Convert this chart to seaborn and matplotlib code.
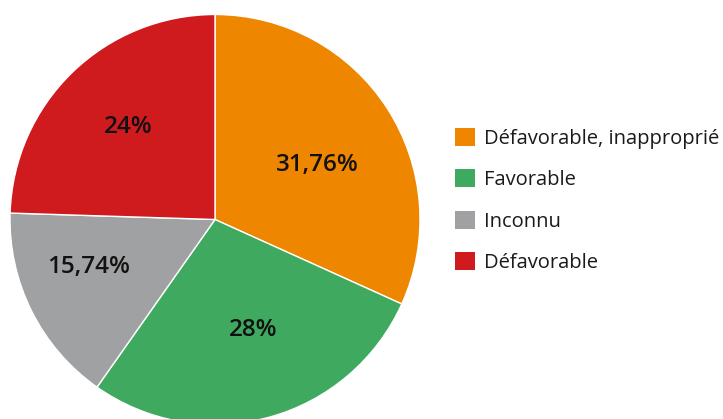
import matplotlib
matplotlib.use("Agg")
import matplotlib.pyplot as plt
from matplotlib.patches import Patch
import numpy as np
import seaborn as sns

categories = ["Défavorable, inapproprié", "Favorable", "Inconnu", "Défavorable"]
values = [31.76, 28, 15.74, 24.5]
value_labels = ["31,76%", "28%", "15,74%", "24%"]
colors = ["#EE8600", "#3FAA5F", "#A0A1A3", "#CF1B1E"]
label_dist = [0.565, 0.57, 0.66, 0.62]
label_turn = [-5, 4, -6, -1]  # degrees off the wedge bisector

sns.set_theme(style="white")
plt.rcParams["font.family"] = ["Open Sans", "DejaVu Sans"]

W, H = 723, 419
cx, cy, r = 215, 219.5, 205

fig = plt.figure(figsize=(W / 100, H / 100), dpi=100)
ax = fig.add_axes([0, 0, 1, 1])

lab_iter = iter(value_labels)
wedges, _, autotexts = ax.pie(
    values, colors=colors, startangle=90, counterclock=False,
    autopct=lambda p: next(lab_iter), pctdistance=0.6,
    wedgeprops=dict(edgecolor="white", linewidth=1),
    textprops=dict(fontsize=17.5, color="#111111", fontweight="semibold"))

# move each percentage label along its wedge's bisector
for w, t, d, turn in zip(wedges, autotexts, label_dist, label_turn):
    ang = np.deg2rad((w.theta1 + w.theta2) / 2 + turn)
    t.set_position((d * np.cos(ang), d * np.sin(ang)))

ax.set_xlim(-cx / r, (W - cx) / r)
ax.set_ylim(-(H - cy) / r, cy / r)
ax.set_aspect("equal")
ax.axis("off")

handles = [Patch(facecolor=c, edgecolor="none") for c in colors]
leg = fig.legend(handles, categories, loc="upper left",
                 bbox_to_anchor=(455 / W, 1 - 128 / H), frameon=False,
                 fontsize=14.5, borderpad=0, borderaxespad=0,
                 handlelength=1.0, handleheight=1.0, handletextpad=0.45,
                 labelspacing=1.02)
for txt in leg.get_texts():
    txt.set_color("#1a1a1a")

fig.savefig("out.png", dpi=100)
